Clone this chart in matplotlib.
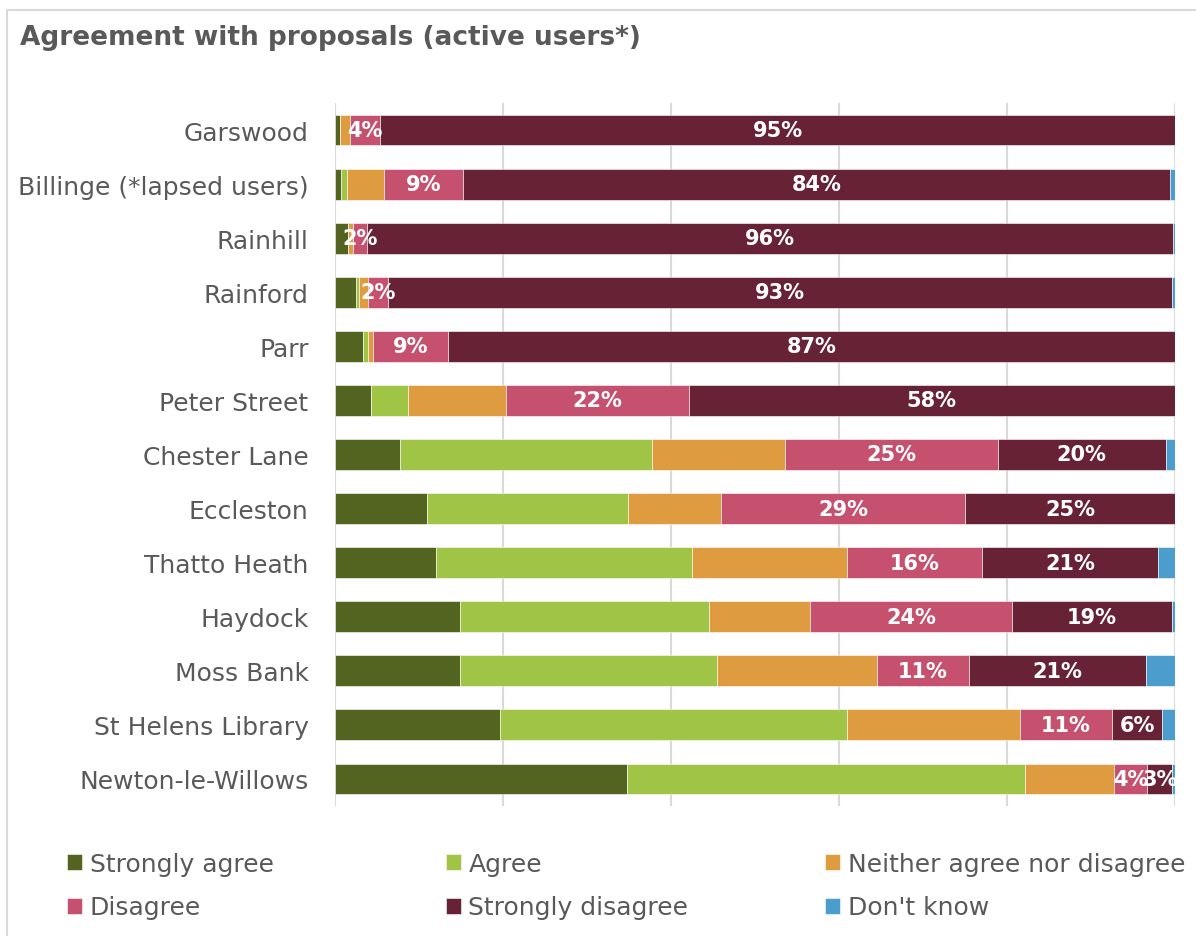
import numpy as np
import matplotlib
matplotlib.use("Agg")
import matplotlib.pyplot as plt
from matplotlib.patches import Rectangle

# share of responses (%) per library, top to bottom
libraries = ["Garswood", "Billinge (*lapsed users)", "Rainhill", "Rainford", "Parr",
             "Peter Street", "Chester Lane", "Eccleston", "Thatto Heath", "Haydock",
             "Moss Bank", "St Helens Library", "Newton-le-Willows"]

strongly_agree = [0.6, 0.7, 1.5, 2.5, 3.3, 4.3, 7.7, 10.9, 12.0, 14.9, 14.9, 19.6, 34.8]
agree = [0.0, 0.7, 0.1, 0.4, 0.6, 4.4, 30.0, 24.0, 30.5, 29.6, 30.6, 41.3, 47.3]
neither = [1.2, 4.4, 0.5, 1.0, 0.6, 11.6, 15.9, 11.1, 18.5, 12.1, 19.0, 20.6, 10.6]
disagree = [3.6, 9.4, 1.7, 2.4, 8.9, 21.8, 25.3, 29.0, 16.0, 24.0, 11.0, 11.0, 4.0]
strongly_disagree = [94.6, 84.2, 96.0, 93.3, 86.6, 57.9, 20.0, 25.0, 21.0, 19.0, 21.0, 6.0, 3.0]
dont_know = [0.0, 0.6, 0.2, 0.4, 0.0, 0.0, 1.1, 0.0, 2.0, 0.4, 3.5, 1.5, 0.3]

series = [
    ("Strongly agree", strongly_agree, "#536421", False),
    ("Agree", agree, "#9fc446", False),
    ("Neither agree nor disagree", neither, "#df9b3f", False),
    ("Disagree", disagree, "#c5516f", True),
    ("Strongly disagree", strongly_disagree, "#672235", True),
    ("Don't know", dont_know, "#4a9dcd", False),
]

grey = "#595959"
plt.rcParams["font.family"] = "DejaVu Sans"

fig = plt.figure(figsize=(11.96, 9.37), dpi=100)
ax = fig.add_axes([335 / 1196, 1 - 807 / 937, 840 / 1196, 703 / 937])

y = np.arange(len(libraries))
left = np.zeros(len(libraries))
handles = {}
for name, vals, col, labelled in series:
    vals = np.array(vals)
    bars = ax.barh(y, vals, left=left, height=0.57, color=col,
                   edgecolor="white", linewidth=0.4, label=name, zorder=3)
    handles[name] = bars
    if labelled:
        for yi, l, v in zip(y, left, vals):
            ax.text(l + v / 2, yi, f"{v:.0f}%", ha="center", va="center",
                    color="white", fontsize=15, fontweight="bold", zorder=4)
    left += vals

ax.set_xlim(0, 100)
ax.set_ylim(len(libraries) - 0.5, -0.5)
ax.set_xticks(np.arange(0, 101, 20))
ax.set_xticklabels([])
ax.tick_params(axis="x", length=0)
ax.set_yticks(y)
ax.set_yticklabels(libraries, fontsize=18, color=grey)
ax.tick_params(axis="y", length=0, pad=19)
ax.grid(axis="x", color="#d9d9d9", linewidth=1.5, zorder=0)
for s in ax.spines.values():
    s.set_visible(False)

fig.text(20 / 1196, 1 - 45 / 937, "Agreement with proposals (active users*)",
         fontsize=19, fontweight="bold", color=grey, va="baseline")

# legend: three columns of two entries each, placed at fixed x positions
columns = [("Strongly agree", "Disagree"),
           ("Agree", "Strongly disagree"),
           ("Neither agree nor disagree", "Don't know")]
col_x = [67, 446, 825]
for names, xpix in zip(columns, col_x):
    leg = fig.legend([handles[k] for k in names], names, loc="upper left",
                     bbox_to_anchor=(xpix / 1196, 1 - 853 / 937), frameon=False,
                     fontsize=18, handlelength=0.6, handleheight=0.6,
                     handletextpad=0.3, labelspacing=0.78, borderpad=0,
                     borderaxespad=0)
    for t in leg.get_texts():
        t.set_color(grey)

# light frame round the chart
fig.patches.append(Rectangle((7 / 1196, -0.5), 2, 0.5 + 1 - 11 / 937,
                             transform=fig.transFigure, fill=False,
                             edgecolor="#d9d9d9", linewidth=1.5))

fig.savefig("out.png", dpi=100)
